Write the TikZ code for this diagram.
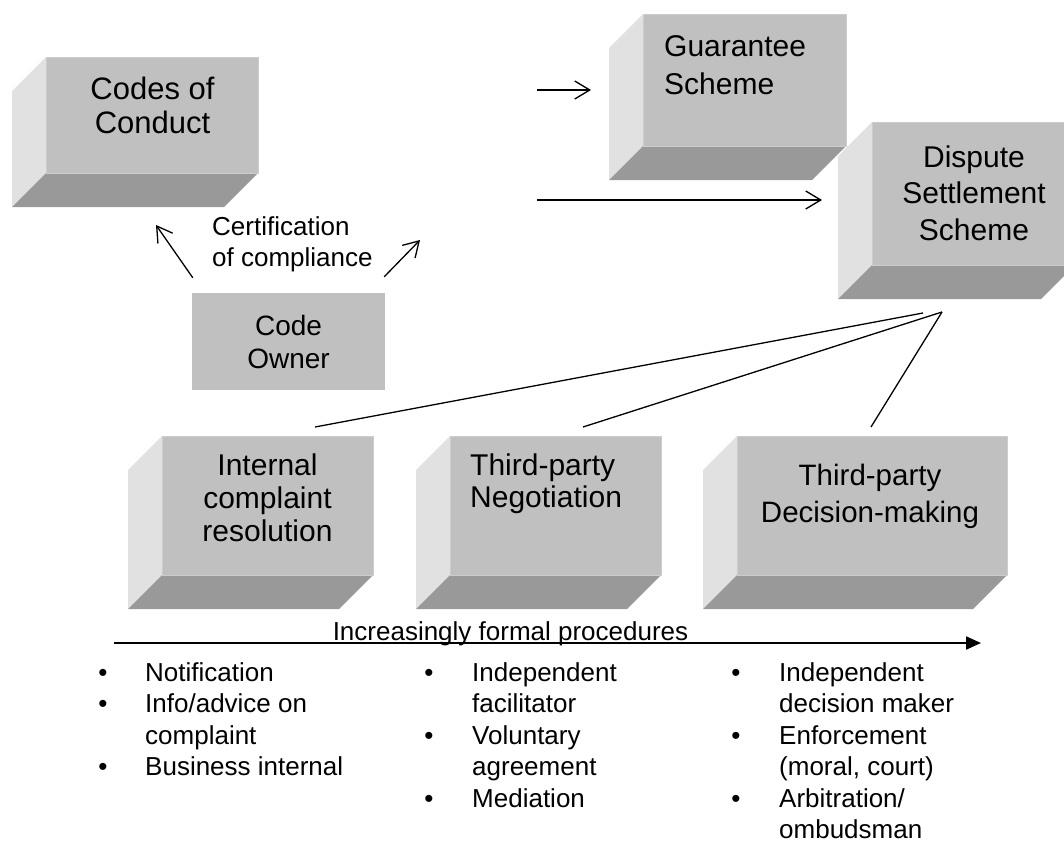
\documentclass[tikz,border=0pt]{standalone}
\usepackage{fontspec}
\setmainfont{Liberation Sans}
\usetikzlibrary{arrows.meta}
\definecolor{frontgray}{HTML}{C0C0C0}
\definecolor{sidegray}{HTML}{E1E1E1}
\definecolor{basegray}{HTML}{999999}
\definecolor{edgegray}{HTML}{CDCDCD}

% bevelled box: name, outer left, top, front right, outer bottom
\newcommand{\bevelbox}[5]{%
	\fill[sidegray] (#2,#3+34) -- (#2+34,#3) -- (#2+34,#5-34) -- (#2,#5) -- cycle;
	\fill[basegray] (#2,#5) -- (#2+34,#5-34) -- (#4,#5-34) -- (#4-34,#5) -- cycle;
	\node[front, minimum width={#4-#2-34}, minimum height={#5-#3-34}] (#1) at (#2+34,#3) {};
}

\begin{document}
\begin{tikzpicture}[x=1pt, y=-1pt,
	front/.style={fill=frontgray, draw=edgegray, line width=1pt, inner sep=0pt, anchor=north west},
	title/.style={font=\fontsize{30}{36}\selectfont, align=center, anchor=base, inner sep=0pt},
	item/.style={font=\fontsize{26}{31.4}\selectfont, align=left, anchor=base west, inner sep=0pt},
	bulletmark/.style={font=\fontsize{26}{31.4}\selectfont, anchor=base, inner sep=0pt},
	link/.style={line width=1.3pt, -{Straight Barb[length=15pt,width=18pt]}},
	fan/.style={line width=1.3pt}]
	\useasboundingbox (0,0) rectangle (1064,843);
	\clip (0,0) rectangle (1064,843);

	% boxes
	\bevelbox{codes}{12}{57}{258}{207}
	\bevelbox{guar}{609}{14}{846}{180}
	\bevelbox{disp}{838}{122}{1075}{299}
	\bevelbox{icr}{128}{436}{373}{609}
	\bevelbox{neg}{416}{436}{661}{609}
	\bevelbox{dec}{703}{436}{1007}{609}

	% titles, placed at the baseline of their last line
	\node[title, font=\fontsize{31}{34.5}\selectfont] (codesT) at (152.5,133.5) {Codes of\\Conduct};
	\node[title, align=left, anchor=base west, font=\fontsize{30}{38}\selectfont] (guarT) at (664,94) {Guarantee\\Scheme};
	\node[title, font=\fontsize{30}{36.5}\selectfont] (dispT) at (974,240) {Dispute\\Settlement\\Scheme};
	\node[title, font=\fontsize{30}{33}\selectfont] (icrT) at (267.5,541) {Internal\\complaint\\resolution};
	\node[title, align=left, anchor=base west, font=\fontsize{30}{32}\selectfont] (negT) at (470,507) {Third-party\\Negotiation};
	\node[title, font=\fontsize{29.5}{37.5}\selectfont] (decT) at (870,522.5) {Third-party\\Decision-making};

	\node[fill=frontgray, minimum width=193, minimum height=97, inner sep=0pt,
		font=\fontsize{28}{33}\selectfont, align=center] (owner) at (288.5,341.5) {Code\\Owner};
	\node[item, font=\fontsize{26}{31}\selectfont] (cert) at (212,266) {Certification\\of compliance};

	% arrows
	\coordinate (codesTip) at (156,225);
	\coordinate (certTip) at (420,240);
	\coordinate (guarTail) at (537,90);
	\coordinate (dispTail) at (537,200);
	\draw[link] ([shift={(1,-15)}]owner.north west) -- (codesTip);
	\draw[link] ([shift={(-1,-16)}]owner.north east) -- (certTip);
	\draw[link] (guarTail) -- ([shift={(-52,76)}]guar.north west);
	\draw[link] (dispTail) -- ([shift={(-50,78)}]disp.north west);

	\draw[fan] ([shift={(153,-9)}]icr.north west) -- ([shift={(51,47)}]disp.south west);
	\draw[fan] ([shift={(133,-9)}]neg.north west) -- ([shift={(70,46)}]disp.south west);
	\draw[fan] ([shift={(134,-9)}]dec.north west) -- ([shift={(70,46)}]disp.south west);

	% procedures
	\coordinate (procL) at (114,643);
	\coordinate (procR) at (981,643);
	\draw[line width=2pt, -{Triangle[length=15pt,width=13pt]}] (procL) -- (procR);
	\node[bulletmark] (proc) at (510.5,640) {Increasingly formal procedures};

	\node[bulletmark] (b1) at (103,681) {•};
	\node[item] (notif) at (145,681) {Notification};
	\node[bulletmark] (b2) at (103,712.5) {•};
	\node[item] (info) at (145,744) {Info/advice on\\complaint};
	\node[bulletmark] (b3) at (103,775.5) {•};
	\node[item] (biz) at (145,775.5) {Business internal};

	\node[bulletmark] (b4) at (429,681) {•};
	\node[item] (facil) at (472,712.5) {Independent\\facilitator};
	\node[bulletmark] (b5) at (429,744) {•};
	\node[item] (volun) at (472,775.5) {Voluntary\\agreement};
	\node[bulletmark] (b6) at (429,807) {•};
	\node[item] (media) at (472,807) {Mediation};

	\node[bulletmark] (b7) at (736,681) {•};
	\node[item] (decider) at (779,712.5) {Independent\\decision maker};
	\node[bulletmark] (b8) at (736,744) {•};
	\node[item] (enforce) at (779,775.5) {Enforcement\\(moral, court)};
	\node[bulletmark] (b9) at (736,807) {•};
	\node[item] (arbit) at (779,838.5) {Arbitration/\\ombudsman};
\end{tikzpicture}
\end{document}
